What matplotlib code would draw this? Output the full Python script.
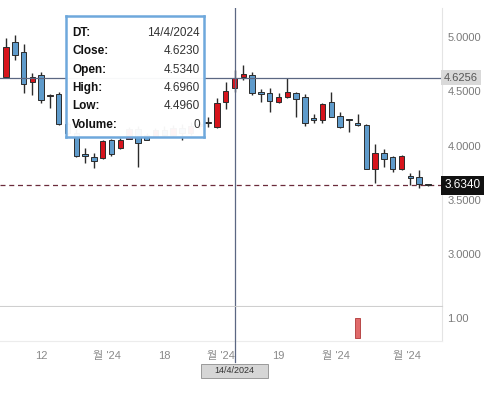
import matplotlib
matplotlib.use('Agg')
import matplotlib.pyplot as plt
import matplotlib.transforms as mtransforms
from matplotlib.patches import Rectangle
import numpy as np

plt.rcParams['font.family'] = ['Liberation Sans', 'Noto Sans CJK KR', 'DejaVu Sans']

# OHLC (one candle per session, left to right)
opens = [4.632, 4.954, 4.862, 4.586, 4.650, 4.457, 4.475, 4.200, 4.120, 3.923,
         3.895, 3.886, 4.050, 3.978, 4.060, 4.150, 4.100, 4.080, 4.140, 4.100,
         4.160, 4.120, 4.180, 4.210, 4.171, 4.401, 4.534, 4.632, 4.650, 4.494,
         4.484, 4.401, 4.448, 4.484, 4.448, 4.245, 4.236, 4.401, 4.273, 4.238,
         4.208, 4.190, 3.785, 3.932, 3.895, 3.785, 3.720, 3.711, 3.634]
highs = [4.991, 5.018, 4.936, 4.669, 4.678, 4.475, 4.494, 4.220, 4.150, 3.978,
         3.932, 4.050, 4.060, 4.070, 4.170, 4.180, 4.120, 4.160, 4.180, 4.190,
         4.200, 4.220, 4.240, 4.263, 4.438, 4.586, 4.696, 4.742, 4.678, 4.521,
         4.530, 4.484, 4.622, 4.494, 4.475, 4.291, 4.390, 4.494, 4.309, 4.245,
         4.291, 4.195, 4.015, 3.969, 3.900, 3.913, 3.748, 3.775, 3.636]
lows = [4.620, 4.788, 4.484, 4.466, 4.392, 4.346, 4.190, 4.100, 3.895, 3.840,
        3.790, 3.880, 3.904, 3.970, 4.080, 3.803, 4.050, 4.080, 4.090, 4.090,
        4.050, 4.100, 4.150, 4.171, 4.162, 4.337, 4.496, 4.604, 4.466, 4.401,
        4.309, 4.392, 4.438, 4.263, 4.180, 4.208, 4.208, 4.260, 4.165, 4.125,
        4.185, 3.780, 3.656, 3.803, 3.757, 3.775, 3.637, 3.610, 3.632]
closes = [4.908, 4.834, 4.567, 4.632, 4.420, 4.460, 4.199, 4.120, 3.904, 3.900,
          3.860, 4.040, 3.923, 4.052, 4.150, 4.024, 4.050, 4.140, 4.100, 4.160,
          4.120, 4.180, 4.200, 4.205, 4.392, 4.503, 4.623, 4.659, 4.484, 4.475,
          4.411, 4.448, 4.494, 4.429, 4.208, 4.240, 4.383, 4.263, 4.171, 4.234,
          4.190, 3.785, 3.932, 3.877, 3.785, 3.904, 3.705, 3.646, 3.634]
volumes = [0] * 40 + [1] + [0] * 8

price_ticks = [3.0, 3.5, 4.0, 4.5, 5.0]
x_tick_pos = [4.06, 11.46, 18.0, 24.4, 31.0, 37.5, 45.6]
x_tick_labels = ['12', "월 '24", '18', "월 '24", '19', "월 '24", "월 '24"]

cross_idx = 26
cross_price = 4.6256
cross_date = '14/4/2024'
last_price = closes[-1]

UP = '#d7141c'
DOWN = '#5f9bcb'
EDGE = '#2b2b2b'
CROSS = '#5b6782'

fig = plt.figure(figsize=(5.04, 3.96), dpi=100)
ax = fig.add_axes([0, 1 - 306 / 396, 442 / 504, 298 / 396])
ax_vol = fig.add_axes([0, 1 - 341 / 396, 442 / 504, 34 / 396], sharex=ax)

x = np.arange(len(opens))
o = np.array(opens)
c = np.array(closes)
colors = [UP if cc > oo else (DOWN if cc < oo else EDGE) for oo, cc in zip(o, c)]

# wicks, then bodies
ax.vlines(x, lows, highs, color=EDGE, lw=1.0, zorder=2)
body_lo = np.minimum(o, c)
body_h = np.maximum(np.abs(c - o), 0.012)
ax.bar(x, body_h, bottom=body_lo, width=0.62, color=colors,
       edgecolor=EDGE, linewidth=0.7, zorder=3)

ax.set_xlim(-0.683, 49.6)
ax.set_ylim(2.523, 5.267)

# crosshair + last price line
ax.axhline(cross_price, color=CROSS, lw=0.9, zorder=4)
ax.axvline(cross_idx, color=CROSS, lw=0.9, zorder=4)
ax.axhline(last_price, color='#6b2b3b', lw=0.9, ls=(0, (4, 3)), zorder=1)

ax.yaxis.tick_right()
ax.set_yticks(price_ticks)
ax.set_yticklabels([f'{t:.4f}' for t in price_ticks])
ax.tick_params(axis='y', length=0, pad=4, labelsize=8, labelcolor='#7a7a7a')
ax.tick_params(axis='x', bottom=False, labelbottom=False)
for s in ('top', 'left'):
    ax.spines[s].set_visible(False)
ax.spines['right'].set_color('#e4e4e4')
ax.spines['bottom'].set_color('#cfcfcf')

trans = mtransforms.blended_transform_factory(ax.transAxes, ax.transData)
ax.text(1.005, cross_price, f'{cross_price:.4f}', transform=trans, ha='left',
        va='center', fontsize=8, color='#555555', zorder=10,
        bbox=dict(boxstyle='square,pad=0.25', fc='#d9d9d9', ec='none'))
ax.text(1.005, last_price, f'{last_price:.4f}', transform=trans, ha='left',
        va='center', fontsize=8.5, color='white', zorder=10,
        bbox=dict(boxstyle='square,pad=0.3', fc='#111111', ec='none'))

# volume panel (only sessions that traded)
vx = [i for i, v in zip(x, volumes) if v > 0]
vv = [v for v in volumes if v > 0]
ax_vol.bar(vx, vv, width=0.62, color='#e06a6a', edgecolor='#b84848',
           linewidth=0.7)
ax_vol.set_ylim(-0.122, 1.537)
ax_vol.yaxis.tick_right()
ax_vol.set_yticks([1.0])
ax_vol.set_yticklabels(['1.00'])
ax_vol.tick_params(axis='y', length=0, pad=4, labelsize=8, labelcolor='#7a7a7a')
ax_vol.set_xticks(x_tick_pos)
ax_vol.set_xticklabels(x_tick_labels)
ax_vol.tick_params(axis='x', length=0, pad=7, labelsize=8, labelcolor='#8a8a8a')
for s in ('top', 'left'):
    ax_vol.spines[s].set_visible(False)
ax_vol.spines['right'].set_color('#e4e4e4')
ax_vol.spines['bottom'].set_color('#ececec')
ax_vol.axvline(cross_idx, ymin=-0.62, ymax=1.0, color=CROSS, lw=0.9,
               clip_on=False, zorder=4)

# date label under the crosshair
vtrans = mtransforms.blended_transform_factory(ax_vol.transData, ax_vol.transAxes)
box_w = 7.7
ax_vol.add_patch(Rectangle((cross_idx - box_w / 2, -1.09), box_w, 0.42,
                           transform=vtrans, fc='#d6d6d6', ec='#9a9a9a', lw=0.7,
                           clip_on=False, zorder=9))
ax_vol.text(cross_idx, -0.88, cross_date, transform=vtrans, ha='center',
            va='center', fontsize=6.5, color='#333333', zorder=10)

# tooltip
tip = fig.add_axes([66 / 504, 1 - 137 / 396, 138 / 504, 121 / 396])
tip.set_facecolor('white')
tip.patch.set_alpha(0.96)
tip.set_xticks([])
tip.set_yticks([])
for s in tip.spines.values():
    s.set_color('#6ea8dc')
    s.set_linewidth(1.8)
rows = [('DT:', cross_date),
        ('Close:', f'{closes[cross_idx]:.4f}'),
        ('Open:', f'{opens[cross_idx]:.4f}'),
        ('High:', f'{highs[cross_idx]:.4f}'),
        ('Low:', f'{lows[cross_idx]:.4f}'),
        ('Volume:', f'{volumes[cross_idx]}')]
for k, (lab, val) in enumerate(rows):
    yy = 1 - (17 + 18.3 * k) / 121
    tip.text(0.045, yy, lab, ha='left', va='center', fontsize=8.5,
             fontweight='bold', color='#111111', transform=tip.transAxes)
    tip.text(0.97, yy, val, ha='right', va='center', fontsize=8.5,
             color='#333333', transform=tip.transAxes)

fig.savefig('out.png', dpi=100)
